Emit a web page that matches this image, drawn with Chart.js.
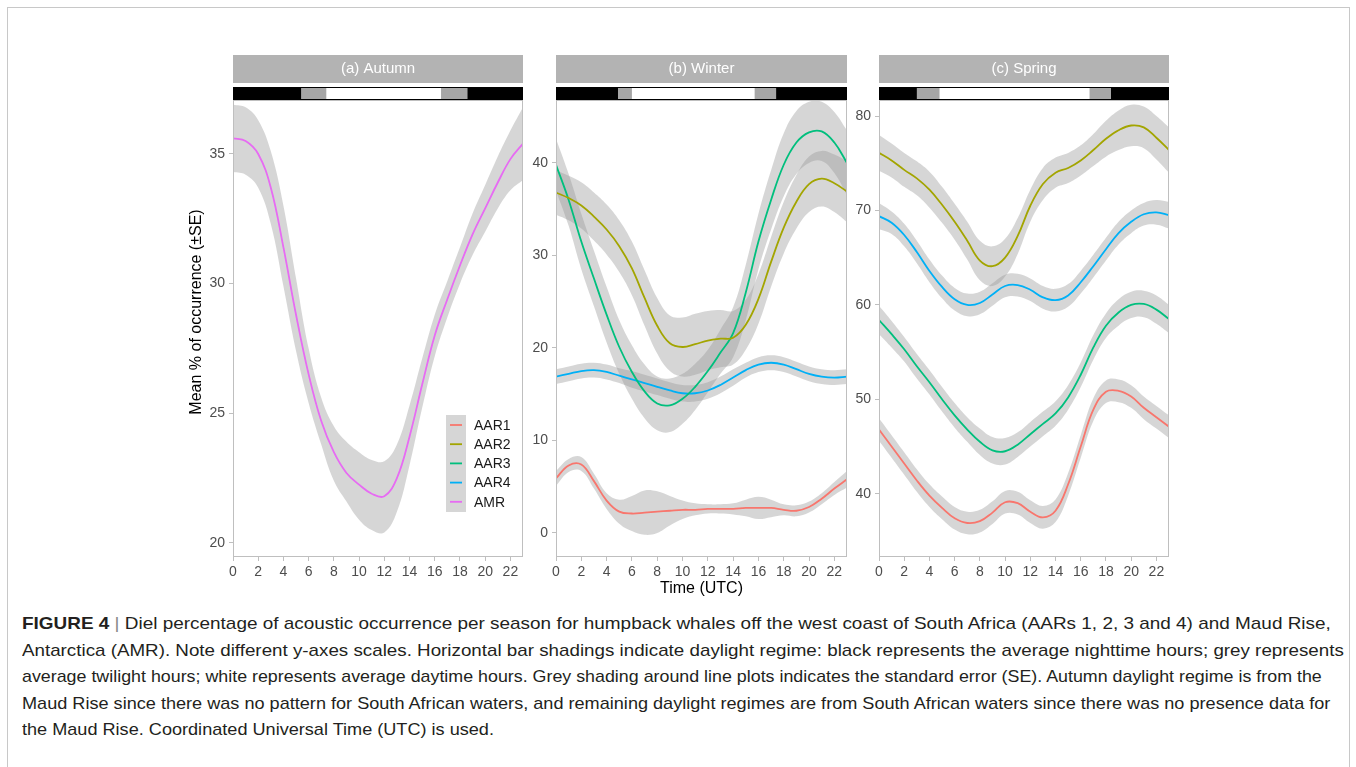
<!DOCTYPE html>
<html>
<head>
<meta charset="utf-8">
<script src="https://cdn.jsdelivr.net/npm/chart.js@4.4.1/dist/chart.umd.min.js"></script>
<style>
body { margin:0; background:#fff; width:1356px; height:767px; overflow:hidden; position:relative; font-family:"Liberation Sans", Arial, sans-serif; }
#frame { position:absolute; left:7px; top:7px; width:1341px; height:800px; border:1px solid #c8c8c8; }
canvas { position:absolute; }
.cap { position:absolute; left:22px; white-space:nowrap; font-size:17px; line-height:20px; color:#231f20; transform-origin:0 50%; }
.cap .sep { color:#888; }
</style>
</head>
<body>
<div id="frame"></div>
<canvas id="panelA" width="380" height="560" style="left:150px;top:50px"></canvas>
<canvas id="panelB" width="381" height="560" style="left:473px;top:50px"></canvas>
<canvas id="panelC" width="380" height="560" style="left:796px;top:50px"></canvas>

<div class="cap" style="top:614px"><b>FIGURE 4</b> <span class="sep">|</span> Diel percentage of acoustic occurrence per season for humpback whales off the west coast of South Africa (AARs 1, 2, 3 and 4) and Maud Rise,</div>
<div class="cap" style="top:641px">Antarctica (AMR). Note different y-axes scales. Horizontal bar shadings indicate daylight regime: black represents the average nighttime hours; grey represents</div>
<div class="cap" style="top:667px">average twilight hours; white represents average daytime hours. Grey shading around line plots indicates the standard error (SE). Autumn daylight regime is from the</div>
<div class="cap" style="top:694px">Maud Rise since there was no pattern for South African waters, and remaining daylight regimes are from South African waters since there was no presence data for</div>
<div class="cap" style="top:720px">the Maud Rise. Coordinated Universal Time (UTC) is used.</div>

<script>
// hours of the day (UTC)
const hours = [0,1,2,3,4,5,6,7,8,9,10,11,12,13,14,15,16,17,18,19,20,21,22,23];
const xTicks = [0,2,4,6,8,10,12,14,16,18,20,22];

const seriesNames = ["AAR1", "AAR2", "AAR3", "AAR4", "AMR"];
const seriesColors = ["#F8766D", "#A3A500", "#00BF7D", "#00B0F6", "#E76BF3"];

// daylight regime: twilight start, day start, day end, twilight end
const autumnLight = [5.4, 7.4, 16.5, 18.6];
const winterLight = [4.9, 6.0, 15.7, 17.4];
const springLight = [3.0, 4.8, 16.7, 18.4];

// (a) Autumn
const autumnTicks = [20, 25, 30, 35];
const amrAutumn   = [35.6,35.5,35.0,33.7,31.4,28.8,26.5,24.7,23.5,22.7,22.25,21.9,21.8,22.5,24.1,26.1,28.0,29.4,30.7,31.9,32.9,33.9,34.8,35.4];
const amrAutumnHi = [36.9,36.8,36.3,35.1,33.0,30.2,27.5,25.6,24.5,23.9,23.5,23.2,23.15,23.8,25.3,27.1,28.8,30.1,31.4,32.7,33.8,34.9,35.9,36.8];
const amrAutumnLo = [34.3,34.2,33.7,32.3,29.9,27.4,25.4,23.8,22.4,21.6,20.9,20.5,20.4,21.2,23.0,25.2,27.2,28.7,30.0,31.1,32.0,32.9,33.6,34.0];

// (b) Winter
const winterTicks = [0, 10, 20, 30, 40];
const aar1Winter   = [5.9,7.3,7.4,5.6,3.5,2.3,2.1,2.2,2.3,2.4,2.5,2.5,2.6,2.6,2.6,2.7,2.7,2.7,2.5,2.4,2.8,3.7,4.8,5.8];
const aar1WinterHi = [6.7,8.0,8.2,6.4,4.3,3.6,4.0,4.6,4.5,4.0,3.5,3.2,3.1,3.1,3.2,3.6,3.9,3.6,3.1,3.0,3.4,4.3,5.5,6.7];
const aar1WinterLo = [5.1,6.6,6.7,4.8,2.6,1.0,0.2,-0.2,0.0,0.8,1.5,1.9,2.1,2.1,2.0,1.8,1.5,1.7,1.9,1.8,2.2,3.1,4.1,4.9];
const aar2Winter   = [36.8,36.2,35.4,34.2,32.8,31.0,28.6,25.4,22.4,20.5,20.1,20.4,20.8,21.0,21.1,22.5,25.3,29.3,33.0,35.8,37.7,38.3,37.8,36.9];
const aar2WinterHi = [39.2,38.6,37.9,36.8,35.5,33.8,31.5,28.4,25.4,23.5,23.3,23.7,24.0,24.1,24.0,25.2,28.0,32.0,35.8,38.7,40.7,41.3,40.9,40.2];
const aar2WinterLo = [34.4,33.8,32.9,31.6,30.1,28.2,25.7,22.4,19.4,17.5,16.9,17.1,17.6,17.9,18.2,19.8,22.6,26.6,30.2,32.9,34.7,35.3,34.7,33.6];
const aar3Winter   = [39.8,36.0,31.5,27.5,23.6,20.1,17.4,15.3,14.0,13.8,14.5,15.8,17.5,19.5,21.6,26.0,31.5,36.0,39.8,42.2,43.3,43.4,42.2,40.0];
const aar3WinterHi = [42.6,38.8,34.5,30.5,26.6,23.0,20.3,18.2,16.9,16.7,17.2,18.3,19.8,22.0,24.4,29.0,34.5,39.2,43.2,45.6,46.6,46.6,45.5,43.5];
const aar3WinterLo = [37.0,33.2,28.5,24.5,20.6,17.2,14.5,12.4,11.1,10.9,11.8,13.3,15.2,17.2,19.0,23.0,28.5,32.8,36.4,38.8,40.0,40.2,38.9,36.5];
const aar4Winter   = [16.9,17.2,17.5,17.6,17.4,17.0,16.6,16.2,15.8,15.4,15.1,15.1,15.4,16.0,16.8,17.6,18.2,18.4,18.2,17.7,17.2,16.9,16.8,16.9];
const aar4WinterHi = [17.7,18.0,18.3,18.4,18.2,17.8,17.5,17.1,16.7,16.3,16.0,16.0,16.3,16.9,17.7,18.4,19.0,19.2,19.0,18.5,18.0,17.7,17.6,17.7];
const aar4WinterLo = [16.1,16.4,16.7,16.8,16.6,16.2,15.7,15.3,14.9,14.5,14.2,14.2,14.5,15.1,15.9,16.8,17.4,17.6,17.4,16.9,16.4,16.1,16.0,16.1];

// (c) Spring
const springTicks = [40, 50, 60, 70, 80];
const aar1Spring   = [46.8,45.0,43.2,41.4,39.8,38.5,37.4,36.9,37.1,38.0,39.1,39.0,38.1,37.5,38.2,41.0,45.0,48.9,50.8,50.9,50.3,49.1,48.1,47.1];
const aar1SpringHi = [48.0,46.2,44.4,42.6,41.0,39.7,38.6,38.1,38.3,39.2,40.3,40.2,39.3,38.7,39.4,42.2,46.2,50.1,52.0,52.1,51.5,50.3,49.3,48.3];
const aar1SpringLo = [45.6,43.8,42.0,40.2,38.6,37.3,36.2,35.7,35.9,36.8,37.9,37.8,36.9,36.3,37.0,39.8,43.8,47.7,49.6,49.7,49.1,47.9,46.9,45.9];
const aar2Spring   = [76.1,75.3,74.3,73.4,72.2,70.6,68.8,66.8,64.7,64.1,65.0,67.3,70.5,72.8,74.0,74.5,75.3,76.4,77.6,78.5,79.0,78.8,77.7,76.4];
const aar2SpringHi = [78.0,77.1,76.1,75.2,74.1,72.5,70.7,68.8,66.8,66.2,67.0,69.2,72.2,74.5,75.6,76.1,76.9,78.1,79.5,80.6,81.2,81.0,80.0,78.8];
const aar2SpringLo = [74.2,73.5,72.5,71.6,70.3,68.7,66.9,64.8,62.6,62.0,63.0,65.4,68.8,71.1,72.4,72.9,73.7,74.7,75.7,76.4,76.8,76.6,75.4,74.0];
const aar3Spring   = [58.4,56.9,55.3,53.5,51.8,50.0,48.3,46.8,45.5,44.6,44.5,45.2,46.3,47.4,48.5,50.2,52.6,55.5,57.8,59.2,60.0,60.1,59.5,58.5];
const aar3SpringHi = [59.9,58.3,56.6,54.8,53.1,51.3,49.6,48.1,46.9,46.0,45.9,46.5,47.6,48.7,49.8,51.5,53.9,56.8,59.1,60.6,61.4,61.5,61.0,60.0];
const aar3SpringLo = [56.9,55.5,54.0,52.2,50.5,48.7,47.0,45.5,44.1,43.2,43.1,43.9,45.0,46.1,47.2,48.9,51.3,54.2,56.5,57.8,58.6,58.7,58.0,57.0];
const aar4Spring   = [69.4,68.7,67.4,65.6,63.6,61.9,60.6,60.0,60.2,61.1,62.0,62.1,61.6,60.8,60.5,61.0,62.4,64.1,65.9,67.6,68.8,69.6,69.8,69.5];
const aar4SpringHi = [70.8,69.9,68.6,66.8,64.8,63.1,61.8,61.2,61.4,62.3,63.2,63.3,62.8,62.0,61.7,62.2,63.6,65.3,67.1,68.8,70.0,70.8,71.1,70.9];
const aar4SpringLo = [68.0,67.5,66.2,64.4,62.4,60.7,59.4,58.8,59.0,59.9,60.8,60.9,60.4,59.6,59.3,59.8,61.2,62.9,64.7,66.4,67.6,68.4,68.5,68.1];

const RIBBON = "rgba(153,153,153,0.4)";
const BORDER = "#bfbfbf";
const TICKTEXT = "#4d4d4d";

Chart.defaults.font.family = '"Liberation Sans", Arial, sans-serif';

function points(values) {
  return values.map((v, i) => ({ x: hours[i], y: v }));
}

// one smoothed series: SE ribbon (lo -> hi) plus the mean line
function smoothSeries(name, mean, lo, hi) {
  const color = seriesColors[seriesNames.indexOf(name)];
  const common = { pointRadius: 0, tension: 0.4 };
  return [
    { ...common, label: name + " lo", data: points(lo), borderWidth: 0, borderColor: "transparent", fill: false, order: 2 },
    { ...common, label: name + " hi", data: points(hi), borderWidth: 0, borderColor: "transparent", fill: "-1", backgroundColor: RIBBON, order: 2 },
    { ...common, label: name, data: points(mean), borderWidth: 1.8, borderColor: color, fill: false, order: 1 }
  ];
}

// strip title, daylight bar, panel border, legend and axis titles
const panelDeco = {
  id: "panelDeco",
  afterDraw(chart, args, opts) {
    const { ctx, chartArea: a, scales: { x } } = chart;
    const w = a.right - a.left;
    ctx.save();
    // strip
    ctx.fillStyle = "#b3b3b3";
    ctx.fillRect(a.left, a.top - 45, w, 28);
    ctx.fillStyle = "#fff";
    ctx.font = '15px "Liberation Sans", Arial, sans-serif';
    ctx.textAlign = "center";
    ctx.textBaseline = "middle";
    ctx.fillText(opts.title, (a.left + a.right) / 2, a.top - 31);
    // daylight bar
    const light = opts.light;
    ctx.fillStyle = "#000";
    ctx.fillRect(a.left, a.top - 13, w, 13);
    ctx.fillStyle = "#a6a6a6";
    ctx.fillRect(x.getPixelForValue(light[0]), a.top - 12, x.getPixelForValue(light[3]) - x.getPixelForValue(light[0]), 11);
    ctx.fillStyle = "#fff";
    ctx.fillRect(x.getPixelForValue(light[1]), a.top - 12, x.getPixelForValue(light[2]) - x.getPixelForValue(light[1]), 11);
    // panel border
    ctx.strokeStyle = BORDER;
    ctx.lineWidth = 1;
    ctx.strokeRect(a.left + 0.5, a.top + 0.5, w - 1, a.bottom - a.top - 1);
    // legend
    if (opts.legend) {
      const lx = a.left + 213, ly = a.top + 315;
      ctx.fillStyle = RIBBON;
      ctx.fillRect(lx, ly, 20, 97);
      ctx.font = '14px "Liberation Sans", Arial, sans-serif';
      ctx.textAlign = "left";
      seriesNames.forEach((n, i) => {
        const yy = ly + 10 + i * 19.2;
        ctx.strokeStyle = seriesColors[i];
        ctx.lineWidth = 1.8;
        ctx.beginPath();
        ctx.moveTo(lx + 4, yy);
        ctx.lineTo(lx + 16, yy);
        ctx.stroke();
        ctx.fillStyle = "#1a1a1a";
        ctx.fillText(n, lx + 28, yy + 1);
      });
    }
    // axis titles
    ctx.fillStyle = "#000";
    ctx.font = '16px "Liberation Sans", Arial, sans-serif';
    ctx.textAlign = "center";
    if (opts.yTitle) {
      ctx.translate(a.left - 36, a.top + 212);
      ctx.rotate(-Math.PI / 2);
      ctx.fillText(opts.yTitle, 0, 0);
      ctx.setTransform(1, 0, 0, 1, 0, 0);
    }
    if (opts.xTitle) {
      ctx.fillText(opts.xTitle, (a.left + a.right) / 2, a.bottom + 32);
    }
    ctx.restore();
  }
};

function makePanel(id, datasets, yMin, yMax, yTicks, deco) {
  new Chart(document.getElementById(id), {
    type: "line",
    data: { datasets: datasets },
    plugins: [panelDeco],
    options: {
      responsive: false,
      animation: false,
      devicePixelRatio: 1,
      layout: { padding: { top: 50, left: 34, right: 7, bottom: 8 } },
      plugins: { legend: { display: false }, tooltip: { enabled: false }, panelDeco: deco },
      scales: {
        x: {
          type: "linear", min: 0, max: 23,
          afterBuildTicks: s => { s.ticks = xTicks.map(v => ({ value: v })); },
          afterFit: s => { s.height = 45; },
          ticks: { color: TICKTEXT, font: { size: 14 }, padding: 3, maxRotation: 0, autoSkip: false },
          grid: { drawOnChartArea: false, tickLength: 4, color: BORDER },
          border: { display: false }
        },
        y: {
          type: "linear", min: yMin, max: yMax,
          afterBuildTicks: s => { s.ticks = yTicks.map(v => ({ value: v })); },
          afterFit: s => { s.width = 49; },
          ticks: { color: TICKTEXT, font: { size: 14 }, padding: 4 },
          grid: { drawOnChartArea: false, tickLength: 4, color: BORDER },
          border: { display: false }
        }
      }
    }
  });
}

makePanel("panelA",
  smoothSeries("AMR", amrAutumn, amrAutumnLo, amrAutumnHi),
  19.46, 37.08, autumnTicks,
  { title: "(a) Autumn", light: autumnLight, legend: true, yTitle: "Mean % of occurrence (\u00b1SE)" });

makePanel("panelB",
  [].concat(
    smoothSeries("AAR1", aar1Winter, aar1WinterLo, aar1WinterHi),
    smoothSeries("AAR2", aar2Winter, aar2WinterLo, aar2WinterHi),
    smoothSeries("AAR3", aar3Winter, aar3WinterLo, aar3WinterHi),
    smoothSeries("AAR4", aar4Winter, aar4WinterLo, aar4WinterHi)),
  -2.6, 46.8, winterTicks,
  { title: "(b) Winter", light: winterLight, xTitle: "Time (UTC)" });

makePanel("panelC",
  [].concat(
    smoothSeries("AAR1", aar1Spring, aar1SpringLo, aar1SpringHi),
    smoothSeries("AAR2", aar2Spring, aar2SpringLo, aar2SpringHi),
    smoothSeries("AAR3", aar3Spring, aar3SpringLo, aar3SpringHi),
    smoothSeries("AAR4", aar4Spring, aar4SpringLo, aar4SpringHi)),
  33.3, 81.7, springTicks,
  { title: "(c) Spring", light: springLight });

// fit caption lines to the reference line widths
const capEnds = [1331, 1344, 1322, 1330];
const caps = document.querySelectorAll(".cap");
let lastScale = 1;
caps.forEach((el, i) => {
  if (i < capEnds.length) {
    lastScale = (capEnds[i] - 22) / el.offsetWidth;
  }
  el.style.transform = "scaleX(" + lastScale.toFixed(4) + ")";
});
</script>
</body>
</html>
